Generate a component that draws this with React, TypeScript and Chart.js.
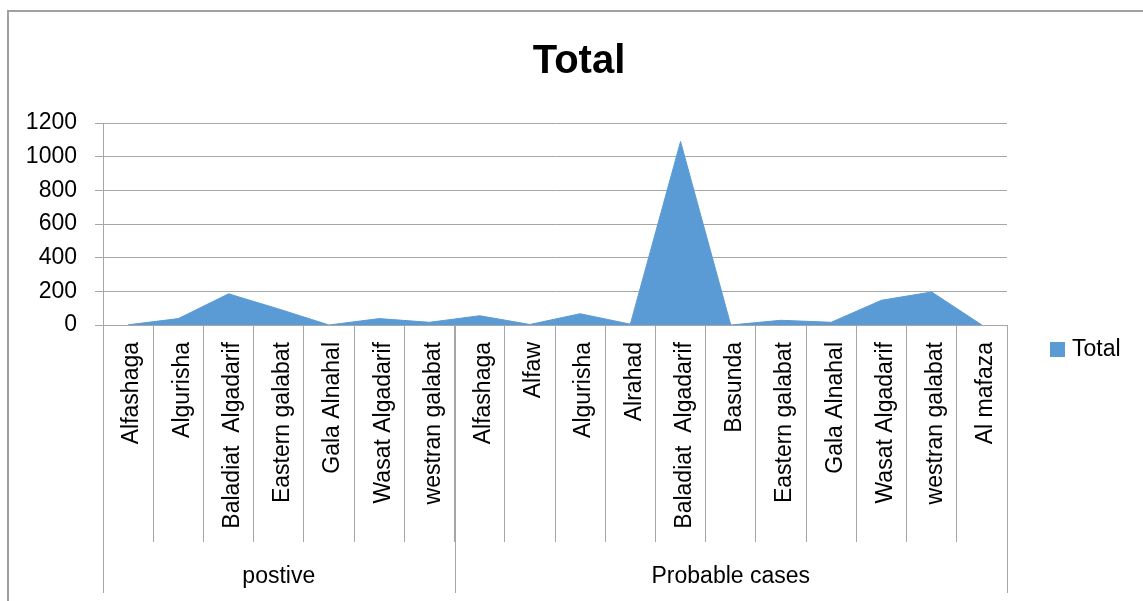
import React, { useEffect, useRef } from "react";
import { Chart, registerables } from "chart.js";

Chart.register(...registerables);

const categories = [
  "Alfashaga", "Algurisha", "Baladiat  Algadarif", "Eastern galabat", "Gala Alnahal", "Wasat Algadarif", "westran galabat",
  "Alfashaga", "Alfaw", "Algurisha", "Alrahad", "Baladiat  Algadarif", "Basunda", "Eastern galabat", "Gala Alnahal", "Wasat Algadarif", "westran galabat", "Al mafaza",
];
const totalValues = [1, 38, 185, 95, 0, 38, 16, 55, 3, 67, 5, 1090, 0, 28, 16, 147, 196, 0];
const groupNames = ["postive", "Probable cases"];
const groupSizes = [7, 11];
const seriesName = "Total";
const titleText = "Total";

const FONT = "'Liberation Sans', Arial, sans-serif";
const AREA = "#5b9bd5";
const GRID = "#a6a6a6";

const decor = {
  id: "decor",
  beforeDraw(chart: any) {
    const ctx = chart.ctx;
    ctx.save();
    ctx.fillStyle = "#ffffff";
    ctx.fillRect(0, 0, chart.width, chart.height);
    ctx.restore();
  },
  afterDraw(chart: any) {
    const ctx = chart.ctx;
    const x = chart.scales.x;
    const area = chart.chartArea;
    ctx.save();
    // outer frame
    ctx.strokeStyle = "#a0a0a0";
    ctx.lineWidth = 2;
    ctx.strokeRect(8, 11, 1300, 800);
    // title
    ctx.fillStyle = "#000";
    ctx.font = `bold 40px ${FONT}`;
    ctx.textAlign = "center";
    ctx.textBaseline = "middle";
    ctx.fillText(titleText, 579, 62);
    // category labels
    ctx.font = `23px ${FONT}`;
    categories.forEach((c, i) => {
      const px = x.getPixelForValue(i);
      ctx.save();
      ctx.translate(px + 4, area.bottom + 17);
      ctx.rotate(-Math.PI / 2);
      ctx.textAlign = "right";
      ctx.textBaseline = "middle";
      ctx.fillText(c, 0, 0);
      ctx.restore();
    });
    // group separators and labels
    const half = (x.getPixelForValue(1) - x.getPixelForValue(0)) / 2;
    let start = 0;
    ctx.strokeStyle = GRID;
    ctx.lineWidth = 1;
    const bounds: number[] = [];
    groupSizes.forEach((n, g) => {
      const l = x.getPixelForValue(start) - half;
      const r = x.getPixelForValue(start + n - 1) + half;
      bounds.push(l, r);
      ctx.textAlign = "center";
      ctx.textBaseline = "middle";
      ctx.fillStyle = "#000";
      ctx.fillText(groupNames[g], (l + r) / 2, 577);
      start += n;
    });
    bounds.forEach((b) => {
      const bx = Math.round(b) + 0.5;
      ctx.beginPath();
      ctx.moveTo(bx, area.bottom);
      ctx.lineTo(bx, 593);
      ctx.stroke();
    });
    // legend
    ctx.fillStyle = AREA;
    ctx.fillRect(1050, 342, 15, 15);
    ctx.fillStyle = "#000";
    ctx.textAlign = "left";
    ctx.textBaseline = "middle";
    ctx.fillText(seriesName, 1072, 350);
    ctx.restore();
  },
};

export default function App() {
  const ref = useRef<HTMLCanvasElement>(null);
  useEffect(() => {
    if (!ref.current) return;
    const chart = new Chart(ref.current, {
      type: "line",
      data: {
        labels: categories,
        datasets: [
          {
            label: seriesName,
            data: totalValues,
            fill: "origin",
            backgroundColor: AREA,
            borderColor: AREA,
            borderWidth: 1,
            pointRadius: 0,
            tension: 0,
          },
        ],
      },
      options: {
        animation: false,
        responsive: false,
        layout: { padding: { left: 0, top: 123, right: 136, bottom: 0 } },
        plugins: { legend: { display: false }, title: { display: false }, tooltip: { enabled: false } },
        scales: {
          x: {
            type: "category",
            offset: true,
            grid: { display: true, offset: true, drawOnChartArea: false, drawTicks: true, tickLength: 217, color: GRID, lineWidth: 1 },
            border: { display: true, color: GRID },
            ticks: { display: false },
            afterFit: (s: any) => { s.height = 276; },
          },
          y: {
            min: 0,
            max: 1200,
            ticks: {
              stepSize: 200,
              padding: 18,
              color: "#000",
              font: { family: FONT, size: 23 },
              callback: (v: any) => String(v),
            },
            grid: { color: GRID, lineWidth: 1, tickLength: 8, drawTicks: true },
            border: { display: true, color: GRID },
            afterFit: (s: any) => { s.width = 103; },
          },
        },
      },
      plugins: [decor],
    });
    return () => chart.destroy();
  }, []);
  return (
    <div style={{ position: "absolute", left: 0, top: 0, width: 1143, height: 601 }}>
      <canvas ref={ref} width={1143} height={601} style={{ display: "block" }} />
    </div>
  );
}
